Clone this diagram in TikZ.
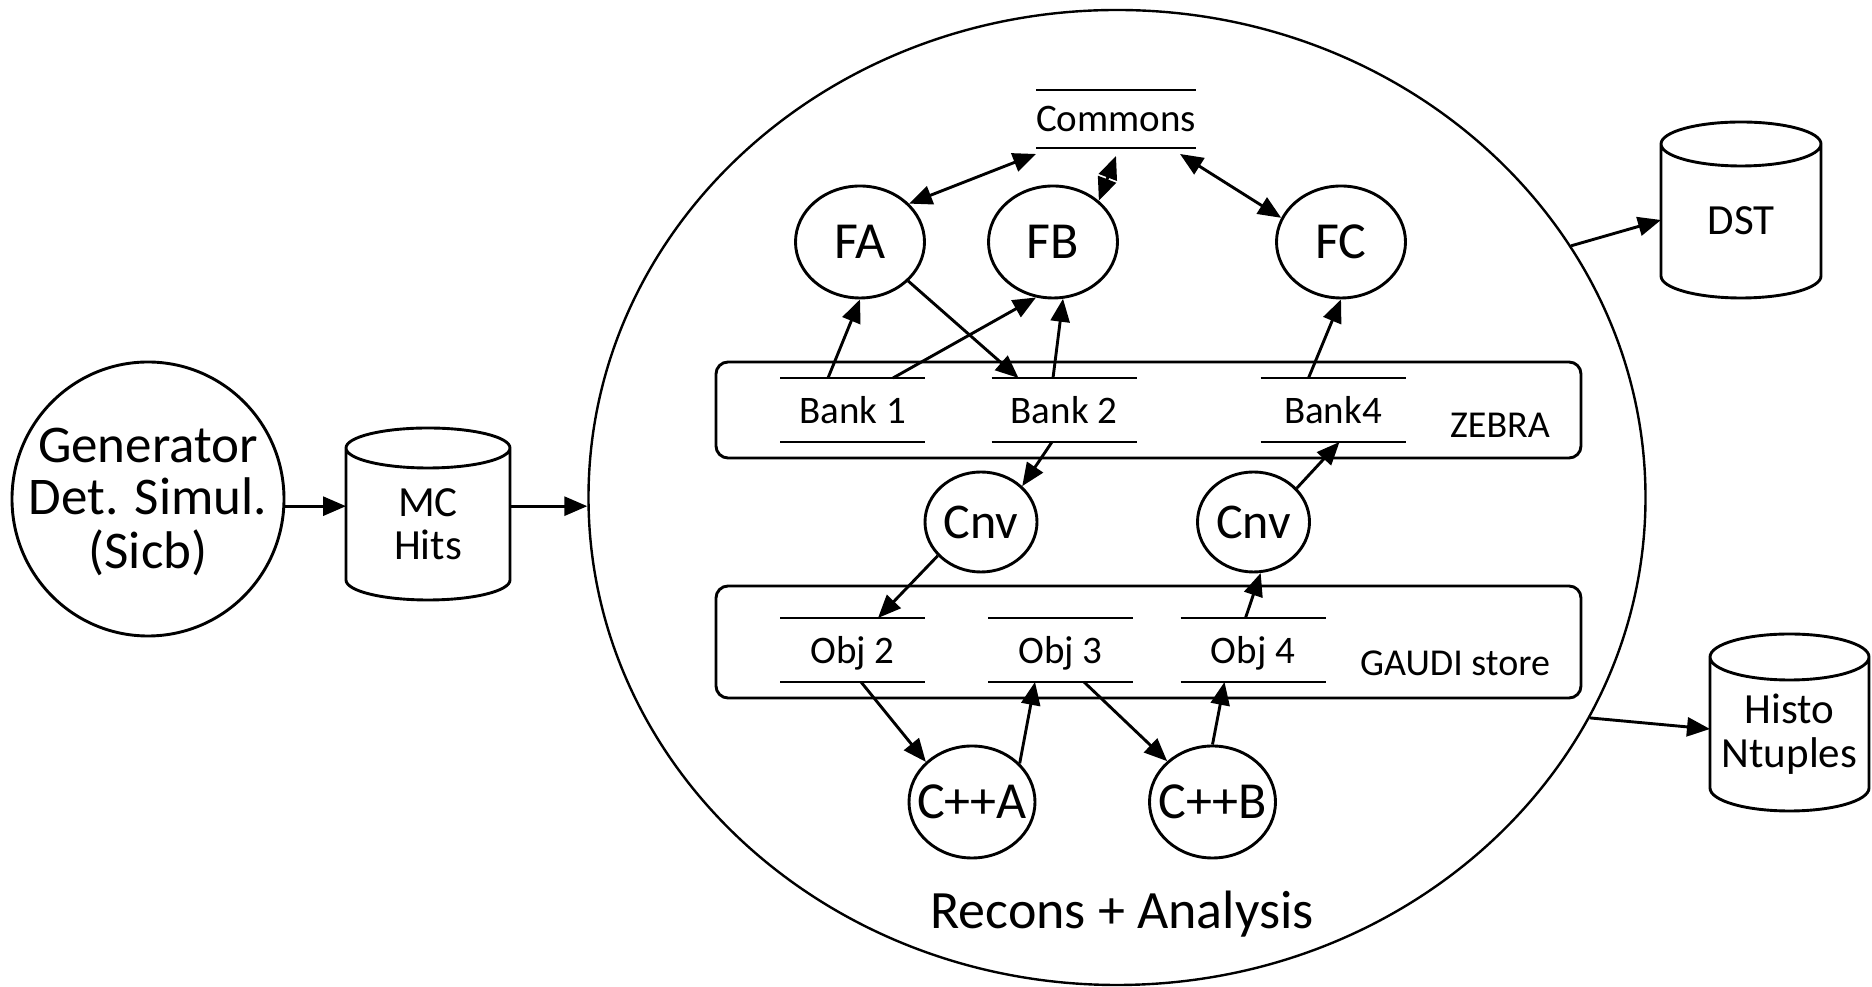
\documentclass[tikz,border=0pt]{standalone}
\usepackage{fontspec}
\setmainfont{Carlito}
\usetikzlibrary{arrows.meta,shapes.geometric,calc}
\newcommand\fsz[2]{\fontsize{#1}{#2}\selectfont}
\newcommand\storelines[1]{\draw[ln] (#1.north west) -- (#1.north east) (#1.south west) -- (#1.south east);}
\newcommand\drawcyl[2]{\draw[ln] let \p1=(#1.north west), \p2=(#1.south east), \n1={(\x2-\x1)/2} in (\x1,\y1) -- (\x1,\y2+#2pt) arc[start angle=180,end angle=360,x radius=\n1,y radius=#2pt] -- (\x2,\y1) arc[start angle=0,end angle=360,x radius=\n1,y radius=#2pt];}
\begin{document}
\begin{tikzpicture}[x=1pt,y=1pt,
 ln/.style={line width=2.9pt},
 arr/.style={ln,-{Triangle[length=23pt,width=19pt]}},
 darr/.style={ln,{Triangle[length=23pt,width=19pt]}-{Triangle[length=23pt,width=19pt]}},
 ell/.style={draw,ellipse,ln,inner sep=0pt,minimum width=129pt,minimum height=112pt,font=\fsz{52}{60}},
 store/.style={inner sep=0pt,outer sep=0pt,minimum width=145pt,minimum height=64pt,text depth=0pt,font=\fsz{39}{46}},
 box/.style={draw,ln,rounded corners=12pt,inner sep=0pt,minimum width=865pt},
 cylbody/.style={inner sep=0pt,outer sep=0pt,align=center,font=\fsz{43}{43}},
 lab/.style={font=\fsz{38}{40}}]
\fill[white] (0,0) rectangle (1872,987);
\useasboundingbox (0,0) rectangle (1872,987);
% main ellipse
\node[draw,ellipse,line width=2.4pt,inner sep=0pt,minimum width=1057pt,minimum height=975pt] (big) at (1117,489.5) {};
\node[font=\fsz{54}{54},anchor=base] (recons) at (1122,58) {Recons + Analysis};
% generator and MC hits
\node[ell,minimum width=272pt,minimum height=274pt,font=\fsz{53}{52}] (gen) at (148,488) {\makebox[0pt]{\raisebox{0pt}[\dimexpr\height+12pt\relax][\depth]{\begin{tabular}{@{}c@{}}Generator\\Det. Simul.\\(Sicb)\end{tabular}}}};
\node[cylbody,minimum width=164pt,minimum height=152pt] (mc) at (428,463) {MC\\Hits};
\drawcyl{mc}{20}
% outputs
\node[cylbody,minimum width=160pt,minimum height=154pt] (dst) at (1741,766) {DST};
\drawcyl{dst}{22}
\node[cylbody,minimum width=159pt,minimum height=154pt,font=\fsz{43}{44}] (histo) at (1789.5,253) {Histo\\Ntuples};
\drawcyl{histo}{23}
% commons
\node[store,minimum width=160pt,minimum height=58pt] (commons) at (1116,868) {Commons};
\storelines{commons}
% algorithms
\node[ell] (fa) at (860,745) {FA};
\node[ell] (fb) at (1053,745) {FB};
\node[ell] (fc) at (1341,745) {FC};
% stores
\node[box,minimum height=96pt] (zebra) at (1148.5,577) {};
\node[box,minimum height=112pt] (gaudi) at (1148.5,345) {};
\node[lab] (zebralab) at (1500,562) {ZEBRA};
\node[lab] (gaudilab) at (1455,324) {GAUDI store};
\node[store] (bank1) at (852.5,577) {Bank 1};
\node[store] (bank2) at (1064,577) {Bank 2};
\node[store] (bank4) at (1333,577) {Bank4};
\node[store] (obj2) at (852.5,337) {Obj 2};
\node[store] (obj3) at (1060.5,337) {Obj 3};
\node[store] (obj4) at (1253,337) {Obj 4};
\storelines{bank1}\storelines{bank2}\storelines{bank4}
\storelines{obj2}\storelines{obj3}\storelines{obj4}
% converters and C++ algorithms
\node[ell,minimum width=112pt,minimum height=100pt,font=\fsz{50}{56}] (cnv1) at (981,465) {Cnv};
\node[ell,minimum width=112pt,minimum height=100pt,font=\fsz{50}{56}] (cnv2) at (1253.5,465) {Cnv};
\node[ell,minimum width=126pt,minimum height=112pt] (cppa) at (972,185) {\makebox[0pt]{C++A}};
\node[ell,minimum width=126pt,minimum height=112pt] (cppb) at (1212.5,185) {\makebox[0pt]{C++B}};
% connectors
\draw[arr] (gen.-3) -- (gen.-3 -| mc.west);
\draw[arr] (gen.-3 -| mc.east) -- (gen.-3 -| big.west);
\draw[arr] (big.29) -- ([yshift=1pt]dst.west);
\draw[arr] (big.-25) -- ([yshift=5pt]histo.west);
\draw[darr] (fa.38) -- ([yshift=-6pt]commons.south west);
\draw[darr] (fb.42) -- ([yshift=-8pt]commons.south);
\draw[darr] ([xshift=-16pt,yshift=-6pt]commons.south east) -- (fc.158);
\draw[arr] ([xshift=48pt]bank1.north west) -- (fa.south);
\draw[arr] ([xshift=-32pt]bank1.north east) -- (fb.-107);
\draw[arr] (fa.-39) -- ([xshift=27pt]bank2.north west);
\draw[arr] ([xshift=-11pt]bank2.north) -- (fb.-80);
\draw[arr] ([xshift=48pt]bank4.north west) -- (fc.south);
\draw[arr] ([xshift=-12pt]bank2.south) -- (cnv1.41);
\draw[arr] (cnv1.-142) -- ([xshift=98pt]obj2.north west);
\draw[arr] (cnv2.38) -- ([xshift=79pt]bank4.south west);
\draw[arr] ([xshift=65pt]obj4.north west) -- (cnv2.-82);
\draw[arr] ([xshift=81pt]obj2.south west) -- (cppa.139);
\draw[arr] (cppa.39) -- ([xshift=47pt]obj3.south west);
\draw[arr] ([xshift=96pt]obj3.south west) -- (cppb.138);
\draw[arr] (cppb.north) -- ([xshift=44pt]obj4.south west);
\end{tikzpicture}
\end{document}
